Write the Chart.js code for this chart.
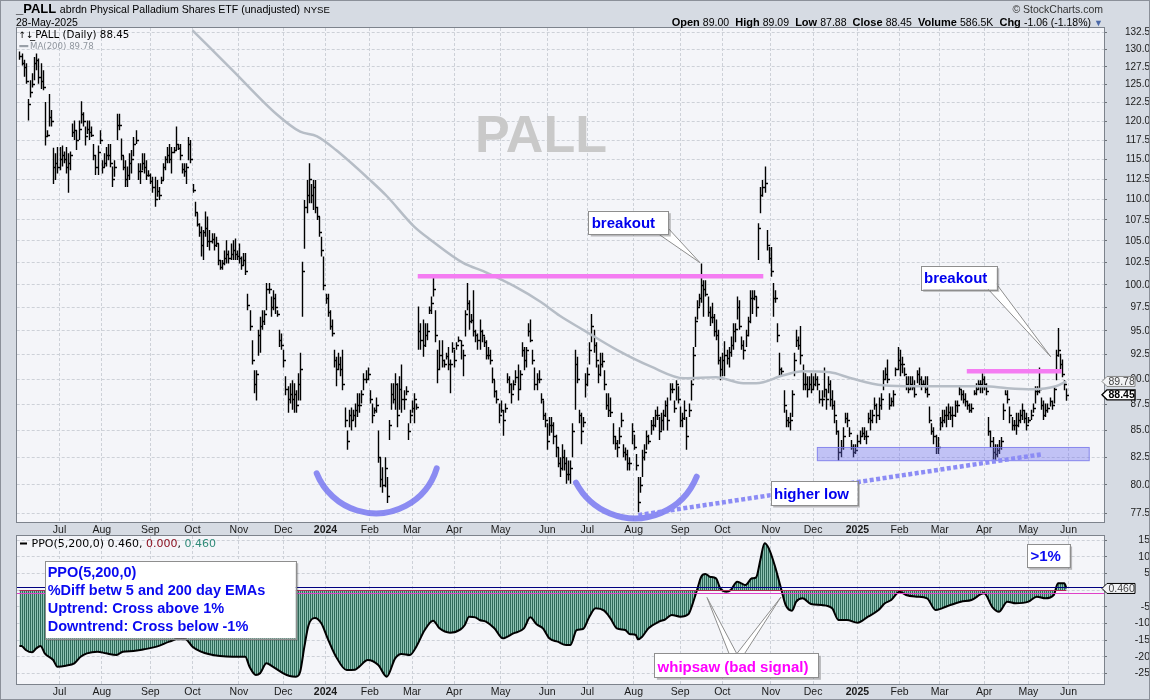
<!DOCTYPE html>
<html><head><meta charset="utf-8"><title>PALL</title>
<script src="https://cdn.jsdelivr.net/npm/chart.js@4.4.1/dist/chart.umd.min.js"></script>
<style>
html,body{margin:0;padding:0;}
body{width:1150px;height:700px;background:#d6dbe3;position:relative;overflow:hidden;font-family:"Liberation Sans",Arial,sans-serif;}
#frame{position:absolute;left:0;top:0;width:1148px;height:698px;border:1px solid #8b9099;pointer-events:none;}
canvas{position:absolute;left:0;top:0;}
.t{position:absolute;white-space:nowrap;color:#000;}
.v{font-size:10.5px;font-weight:normal;}
</style></head><body>
<canvas id="cTop" width="1150" height="700"></canvas>
<canvas id="cPpo" width="1150" height="700"></canvas>
<div id="frame"></div>
<div class="t" style="left:16px;top:2.3px;font-size:13px;line-height:13px;"><b>_PALL</b> <span style="font-size:10.6px;">abrdn Physical Palladium Shares ETF (unadjusted)</span> <span style="font-size:9.6px;">NYSE</span></div>
<div class="t" style="left:16px;top:16.8px;font-size:10.5px;line-height:10.5px;">28-May-2025</div>
<div class="t" style="right:47px;top:3.8px;font-size:10.5px;line-height:10.5px;color:#333;">© StockCharts.com</div>
<div class="t" style="right:47px;top:16.7px;font-size:11px;line-height:11px;"><b>Open</b> <span class="v">89.00</span>&nbsp; <b>High</b> <span class="v">89.09</span>&nbsp; <b>Low</b> <span class="v">87.88</span>&nbsp; <b>Close</b> <span class="v">88.45</span>&nbsp; <b>Volume</b> <span class="v">586.5K</span>&nbsp; <b>Chg</b> <span class="v">-1.06 (-1.18%)</span> <span style="color:#4a68a8;font-size:9px;">&#9660;</span></div>
<script>
const FONT = '"Liberation Sans", Arial, sans-serif';
const VFONT = '"DejaVu Sans", Verdana, sans-serif';

// trading-day index: 0 = 2023-06-01 ; first bar = 2023-06-05
const firstDay = 2;
const high = [
129.7,129.4,128.5,128.0,123.0,125.6,126.6,128.9,129.4,128.7,
128.0,127.0,122.6,118.8,123.7,121.5,116.5,115.8,116.6,116.6,
116.8,116.0,116.6,115.8,116.0,119.7,120.1,118.8,120.1,122.7,
121.2,119.3,120.1,120.1,119.3,117.0,115.6,116.8,118.8,114.9,
115.8,116.6,117.0,117.0,114.1,114.9,121.0,121.0,117.7,115.4,
114.9,114.1,115.8,116.2,117.9,118.8,114.5,114.5,115.8,115.8,
114.9,113.6,113.2,112.8,112.8,112.4,111.5,112.8,114.5,115.4,
116.6,117.0,116.6,116.6,119.3,117.0,117.0,114.5,114.5,114.5,
117.9,117.5,111.9,109.7,108.3,107.1,106.7,106.3,108.5,107.9,
106.3,105.9,105.9,105.5,104.7,102.8,102.8,103.9,105.1,103.9,
104.7,105.1,105.3,103.9,104.7,103.2,103.6,103.6,99.0,97.2,
94.0,90.9,90.9,95.1,96.5,97.2,97.2,100.2,100.2,98.7,
99.4,99.0,97.2,95.1,94.7,93.0,90.3,89.3,89.6,89.9,
89.6,88.9,90.6,92.7,102.6,109.9,112.4,114.5,111.9,112.4,
112.4,109.1,107.9,105.5,103.2,99.0,99.0,97.2,96.2,93.0,
92.3,92.7,92.3,93.0,87.2,85.0,87.0,87.2,87.0,87.6,
88.6,88.6,88.9,90.6,90.9,91.2,88.9,87.6,87.2,88.2,
85.0,82.5,81.6,82.5,80.7,86.0,89.6,89.6,90.6,89.6,
90.3,91.5,88.9,89.3,85.7,87.0,87.9,88.6,87.6,97.6,
95.8,96.2,95.8,95.8,97.6,98.7,100.9,97.2,93.0,94.0,
94.0,92.0,92.7,93.3,92.0,93.8,93.0,93.8,94.4,94.0,
93.0,97.2,100.2,98.3,96.8,99.4,95.1,94.7,96.2,95.1,
94.4,94.0,93.3,93.0,91.2,89.9,88.9,87.6,87.9,87.0,
87.6,90.6,90.3,89.6,89.9,90.9,91.5,90.9,93.8,93.3,
93.3,95.8,96.2,93.0,91.2,90.6,90.9,88.6,87.9,86.7,
85.7,86.3,86.3,85.8,84.6,83.4,82.5,83.7,83.2,82.5,
82.2,82.2,85.7,93.0,92.3,87.0,86.7,86.3,90.6,91.2,
93.8,96.8,95.1,93.8,91.5,92.7,92.7,90.9,88.6,88.6,
88.2,85.7,84.5,84.1,85.3,86.7,83.7,83.4,83.2,82.5,
85.7,84.6,82.8,80.7,80.7,83.2,83.7,85.0,84.6,86.0,
86.3,87.0,87.3,86.3,86.7,87.0,87.9,88.2,89.6,89.6,
87.9,89.9,89.3,87.3,86.7,87.9,86.3,87.6,89.9,93.3,
96.5,98.3,99.0,102.4,100.5,100.5,98.7,97.6,98.0,96.8,
96.2,95.1,92.3,92.7,93.9,93.0,93.3,94.4,95.8,95.8,
98.7,98.3,94.4,94.0,95.1,96.5,99.4,99.4,99.4,98.7,
107.1,111.5,112.4,114.1,106.3,104.3,104.3,100.2,99.4,95.8,
92.7,91.2,88.9,87.0,86.3,86.7,88.9,92.7,95.1,94.4,
95.5,91.5,90.6,90.3,90.3,90.6,90.3,90.6,90.3,88.9,
88.9,91.2,88.9,90.3,89.9,88.9,87.9,86.0,85.0,84.1,
85.3,86.7,86.7,85.3,84.1,83.7,83.7,84.6,85.0,85.3,
85.3,85.0,86.7,87.0,87.0,88.2,87.6,88.2,88.6,90.9,
91.2,92.0,88.6,88.2,88.9,91.2,93.3,93.0,92.3,91.2,
90.3,90.3,90.3,90.3,89.9,90.9,91.2,90.3,89.9,90.3,
90.3,87.3,85.7,85.3,84.6,84.4,86.3,87.0,87.0,87.3,
87.6,87.3,87.3,87.9,87.9,89.3,88.9,88.9,88.6,87.9,
87.6,87.6,88.9,89.6,89.9,89.9,90.6,90.3,89.6,86.3,
85.0,84.4,83.7,83.7,84.1,84.4,87.6,88.9,88.9,87.3,
86.3,86.0,86.7,86.7,87.0,87.6,87.0,86.7,86.3,87.0,
87.6,89.3,89.3,91.2,88.2,87.9,87.6,87.6,88.2,87.9,
89.3,93.0,95.3,92.6,92.0,89.9,89.09];
const low = [
128.5,127.7,126.1,125.1,120.1,123.2,124.6,125.6,127.0,125.1,
124.4,124.2,116.8,117.9,119.3,119.3,111.9,112.4,113.2,113.6,
114.1,114.5,113.2,110.8,113.6,117.9,117.5,116.2,117.5,119.7,
119.3,116.8,118.3,117.5,117.9,114.9,113.0,113.0,117.0,113.2,
114.0,114.1,114.9,114.0,111.5,112.8,117.5,118.8,114.9,113.6,
111.5,111.5,112.4,113.2,115.4,117.0,112.4,111.9,113.6,113.2,
112.4,112.8,111.9,110.8,109.1,110.3,109.9,111.9,112.4,113.6,
114.5,114.5,113.2,115.8,116.2,116.2,114.9,113.2,112.8,111.9,
114.9,114.5,110.8,107.9,106.7,105.5,103.2,102.8,105.5,104.3,
103.9,104.7,103.9,104.3,102.2,101.7,101.7,102.2,102.4,102.4,
102.8,102.8,102.8,102.8,102.4,101.7,102.2,101.1,97.2,95.0,
91.5,88.6,87.9,92.4,92.7,95.1,95.6,97.2,99.0,96.5,
97.2,96.8,96.5,93.3,93.0,91.2,88.4,86.7,87.6,87.0,
86.7,86.7,87.9,87.9,96.5,104.1,108.3,109.5,109.5,108.7,
108.3,107.5,105.5,103.2,99.4,97.9,96.5,95.1,94.4,91.2,
89.3,90.9,90.3,88.9,85.3,83.2,85.3,85.0,86.0,85.3,
86.3,86.7,87.6,88.9,89.6,89.9,87.6,85.7,86.6,86.7,
82.0,79.8,79.3,79.8,78.4,84.1,87.0,87.6,87.0,85.3,
87.0,86.7,87.0,88.4,84.1,85.7,86.7,85.7,87.0,93.0,
93.0,92.3,93.3,94.0,96.8,96.8,98.7,93.8,89.6,90.9,
91.2,91.2,92.0,90.9,88.6,92.7,91.2,93.0,93.8,92.0,
90.3,94.4,97.2,95.1,95.8,94.4,93.8,93.0,93.0,93.8,
93.3,92.0,92.0,91.5,89.6,88.2,87.6,85.7,86.7,84.5,
86.7,89.6,88.6,87.6,88.9,89.6,87.9,88.9,92.3,90.9,
91.2,94.4,93.8,91.5,88.9,88.9,89.6,87.6,86.0,85.3,
83.2,84.5,84.8,83.7,82.5,81.6,80.7,81.3,81.3,80.1,
80.4,80.1,82.5,87.0,89.6,85.7,83.7,85.3,88.2,89.3,
91.5,93.8,92.7,91.2,89.6,90.3,91.2,88.9,87.0,86.3,
86.3,83.7,83.2,82.5,83.7,85.3,82.5,82.2,81.3,81.3,
83.7,83.2,81.3,77.6,79.3,80.7,82.2,83.2,83.7,84.6,
85.0,85.3,86.0,84.1,85.0,85.0,86.3,85.0,87.9,88.6,
86.7,87.9,87.6,85.3,85.3,86.0,83.2,86.3,87.9,89.9,
93.3,96.2,97.6,98.0,96.5,98.7,96.5,95.5,95.8,94.4,
94.0,91.5,89.9,90.3,90.3,91.5,91.2,92.3,93.0,93.8,
96.2,95.1,93.0,92.0,93.3,94.4,95.8,96.8,98.3,96.5,
102.8,108.3,110.3,110.8,103.9,102.4,100.9,96.5,98.0,93.8,
90.3,90.3,86.7,85.3,85.3,85.0,86.3,90.3,93.3,93.0,
91.5,88.9,88.9,88.2,88.9,88.6,88.9,89.3,88.9,87.6,
87.3,88.2,87.0,88.6,87.3,87.0,85.7,84.6,82.2,82.5,
83.2,85.7,85.3,84.4,83.2,82.5,82.8,83.4,83.7,84.4,
84.1,83.7,85.7,85.0,85.7,87.0,85.7,86.0,87.0,88.9,
89.9,89.6,87.0,87.3,87.3,90.3,90.9,90.3,90.6,90.3,
88.9,88.6,88.9,88.9,88.2,89.6,89.3,88.9,89.3,88.6,
88.2,85.7,84.6,83.7,82.8,82.8,85.0,85.3,85.7,85.3,
86.0,86.0,85.3,86.3,86.7,88.4,87.9,87.6,87.3,87.0,
86.7,86.7,88.4,88.4,88.9,88.6,88.6,88.9,88.4,84.5,
83.4,82.2,82.2,82.5,82.8,83.2,86.0,88.4,87.6,85.7,
85.0,85.0,84.6,85.3,85.7,86.0,85.7,85.0,85.7,86.0,
86.7,87.6,88.4,88.6,87.0,86.0,86.3,86.7,87.3,87.0,
87.6,89.9,92.3,91.0,90.2,88.9,87.88];
const close = [
129.0,128.0,127.5,125.5,122.3,124.0,125.1,128.0,128.5,126.0,
125.5,124.6,118.0,118.2,120.5,120.0,114.0,114.5,114.0,115.0,
115.5,115.0,114.0,114.5,115.5,118.5,118.8,117.5,119.0,121.0,
120.0,118.0,119.0,118.5,118.2,115.5,114.0,116.0,117.5,114.0,
114.5,115.5,115.5,114.5,112.5,114.0,119.5,119.5,115.5,114.0,
112.5,113.0,114.5,115.0,117.0,117.5,113.5,113.5,114.5,114.0,
113.0,113.0,112.2,111.5,110.0,111.0,110.5,112.4,114.0,115.0,
115.5,115.0,116.0,116.2,117.0,116.5,115.5,113.8,113.5,114.0,
117.0,115.0,111.2,108.5,107.0,106.0,104.5,106.0,106.5,105.0,
105.0,105.2,104.5,104.8,102.8,102.0,102.5,103.0,103.5,103.0,
103.5,104.0,103.5,103.2,103.0,102.2,102.8,101.5,97.8,95.5,
92.0,89.5,90.5,94.5,95.5,96.0,96.8,99.5,99.5,97.5,
98.5,97.5,96.8,94.0,93.5,92.0,89.0,88.0,88.5,88.0,
88.5,87.5,89.5,91.0,101.5,109.0,110.5,112.5,110.5,111.5,
109.0,108.0,106.0,104.0,100.0,98.5,97.0,95.5,94.8,92.0,
91.0,91.5,91.0,89.5,86.0,84.0,86.5,86.0,86.5,87.0,
87.5,87.5,88.5,90.0,90.0,90.5,88.0,86.5,87.0,87.5,
82.5,80.5,80.0,81.5,79.0,85.5,88.5,88.0,89.5,86.5,
89.0,88.0,88.0,88.8,85.0,86.5,87.2,88.0,87.3,95.0,
94.0,93.5,94.5,95.0,97.2,98.0,99.5,94.5,91.0,92.5,
92.0,91.5,92.4,91.5,91.5,93.2,92.0,93.5,94.0,93.5,
92.5,96.8,98.0,96.0,96.2,95.0,94.5,94.0,95.0,94.5,
93.8,92.5,92.5,92.0,90.0,88.8,88.0,86.5,87.0,86.0,
87.2,90.0,89.5,88.5,89.5,90.2,89.0,90.5,93.0,92.0,
93.0,95.0,94.0,92.0,89.5,90.0,90.0,88.0,86.5,86.0,
84.0,85.5,85.5,84.5,83.5,82.0,81.5,82.5,82.0,81.0,
81.0,81.5,85.0,91.5,90.0,86.5,85.0,85.8,89.5,90.5,
93.0,95.5,93.5,92.0,90.5,91.5,91.8,89.5,87.5,87.0,
86.8,84.5,83.8,83.5,84.5,86.0,83.0,82.8,82.0,82.0,
85.0,83.5,81.8,78.5,80.0,82.5,83.0,84.5,84.0,85.5,
85.5,86.5,86.5,85.0,86.0,86.5,87.5,86.0,89.0,89.0,
87.2,89.5,88.0,86.0,86.2,87.0,84.5,87.0,89.5,92.5,
96.0,97.5,98.5,100.0,99.5,99.0,97.0,96.5,96.5,95.0,
94.5,92.0,91.0,92.0,92.5,92.2,92.8,93.5,95.0,95.2,
97.5,95.5,93.5,93.0,94.5,96.0,98.5,98.5,98.8,97.5,
106.5,110.5,111.5,112.0,104.5,103.0,101.5,98.5,98.5,94.5,
91.0,90.8,87.5,86.0,85.8,86.0,88.5,92.0,94.0,93.5,
92.5,89.5,89.5,89.0,89.5,89.0,89.5,90.0,89.5,88.0,
88.0,89.0,88.0,89.5,88.0,87.5,86.5,85.0,83.0,83.5,
84.5,86.2,86.0,84.8,83.5,83.0,83.2,84.0,84.5,84.8,
84.5,84.5,86.2,86.0,86.5,87.5,86.5,87.5,88.0,90.0,
90.5,90.0,87.5,87.8,88.5,91.0,92.0,91.5,91.5,90.5,
89.5,89.0,89.5,89.2,88.5,90.5,90.0,89.5,89.5,89.0,
88.5,86.0,85.0,84.5,83.5,83.5,85.8,86.0,86.5,86.5,
86.8,86.5,86.5,87.5,87.5,89.0,88.5,88.0,87.8,87.5,
87.0,87.2,88.6,89.0,89.5,89.5,90.0,89.5,88.8,85.0,
84.0,83.0,82.8,83.2,83.5,84.0,87.0,88.5,88.0,86.5,
85.5,85.5,85.5,86.0,86.5,87.0,86.2,85.5,86.0,86.5,
87.2,88.8,88.8,89.0,87.5,86.5,87.0,87.2,87.8,87.5,
89.0,92.5,93.0,91.5,90.5,89.51,88.45];

// 200-day moving average
const maDay = [84,103,124,135,143,152,168,176,189,197,212,223,236,249,258,269,285,301,317,332,345,351,364,373,386,396,411,427,443,459,470,482,493,498];
const maVal = [132.8,127.0,120.9,118.6,118.0,116.2,112.4,110.4,106.7,105.1,102.5,101.4,99.9,98.1,96.6,95.1,93.0,91.3,90.1,90.2,89.6,89.6,90.4,90.8,90.7,90.1,89.4,89.3,89.3,89.3,89.1,89.0,89.3,89.78];

// PPO(5,200,0)
const ppoDay = [2,3,5,8,10,12,14,18,20,24,28,31,34,39,43,48,51,56,61,67,73,78,81,84,88,92,97,103,109,111,114,116,119,122,127,130,133,135,137,139,142,145,148,152,157,161,163,167,172,176,180,183,187,190,194,198,201,206,211,213,215,218,220,223,227,231,236,241,244,247,250,253,257,261,263,266,269,272,275,279,282,285,289,291,294,295,297,300,305,308,311,315,319,321,323,325,327,329,332,334,337,339,342,344,346,349,351,353,355,357,360,363,365,368,370,373,377,382,387,390,394,399,404,409,412,415,419,422,427,432,436,439,443,448,453,459,463,466,470,474,480,484,488,492,494,497,498];
const ppoVal = [-16.8,-16.8,-18,-18.7,-17.5,-16.8,-19,-21,-23,-22.7,-22,-20,-19,-18.5,-19,-19.5,-18.5,-18.3,-17.8,-17,-15.5,-14.5,-14.8,-17,-18.5,-19.3,-19.8,-20,-20,-23,-25.5,-25,-22,-23,-25,-25.8,-26,-24.5,-17,-10.5,-8.4,-10,-14.5,-20,-24,-23.9,-23,-21,-22.5,-26,-20.5,-19.2,-19.5,-17,-12,-9.2,-11.5,-12.8,-11.8,-10.5,-8,-8.2,-9,-9.5,-11.5,-14.5,-13,-11.5,-8.2,-10.3,-11.5,-14.5,-15.5,-16.5,-16.5,-12,-11.7,-8,-5.5,-6.2,-8.5,-11.5,-12,-13.2,-13.5,-14.8,-14,-11.5,-9.5,-8.8,-7.5,-8,-7.2,-4,0,4,4.8,4,3.5,0.5,-0.5,0,2.5,2,1.5,3.5,3.8,9,14,12.5,7,0,-4.5,-6.2,-3.5,-2.5,-4.2,-4.5,-5.5,-9,-9,-9.8,-8,-6,-4,-3,-0.5,-1.5,-2,-2.5,-6,-5.5,-4.5,-3.5,-3,-1,-5.2,-6.5,-3.5,-4,-3.5,-2,-2.5,-1.5,2,2,0.46];

// first trading day of each month (same index) and its label
const monthDay = [21,41,64,84,106,127,147,168,188,208,230,252,271,293,315,335,358,378,399,419,438,459,480,499];
const monthLabel = ['Jul','Aug','Sep','Oct','Nov','Dec','2024','Feb','Mar','Apr','May','Jun','Jul','Aug','Sep','Oct','Nov','Dec','2025','Feb','Mar','Apr','May','Jun'];
const priceTicks = [77.5,80,82.5,85,87.5,90,92.5,95,97.5,100,102.5,105,107.5,110,112.5,115,117.5,120,122.5,125,127.5,130,132.5];
const ppoTicks = [15,10,5,0,-5,-10,-15,-20,-25];
const lastClose = 88.45, lastMA = 89.78, lastPPO = 0.46, ppoSignal = 0;

// annotation levels drawn on the price chart (day, price)
const resistance = [{from:190.7,to:354.4,price:100.95},{from:450.8,to:495.7,price:90.82}];
const supportZone = {from:380,to:508.8,lo:82.19,hi:83.41};
const trendLine = {d1:295.2,p1:77.35,d2:487,p2:82.8};

const X_MIN = 0.71, X_MAX = 515.8;
const GRID = '#cdd1d8';

function xScale(height){
  return {
    type:'linear', min:X_MIN, max:X_MAX,
    afterBuildTicks:s=>{ s.ticks = monthDay.map(v=>({value:v})); },
    afterFit:s=>{ s.height = height; },
    ticks:{autoSkip:false, maxRotation:0, padding:2, color:'#1a1a1a',
      font:c=>({family:FONT, size:10.5, weight:(monthLabel[c.index]||'').length===4?'bold':'normal'}),
      callback:(v,i)=>monthLabel[i]},
    grid:{color:GRID, drawTicks:false},
    border:{display:false, dash:[3,2]}
  };
}
function clipArea(ctx,a){ ctx.beginPath(); ctx.rect(a.left,a.top,a.right-a.left,a.bottom-a.top); ctx.clip(); }
function drawTail(ctx,pts){
  ctx.beginPath(); ctx.moveTo(pts[0][0],pts[0][1]);
  for(let k=1;k<pts.length;k++) ctx.lineTo(pts[k][0],pts[k][1]);
  ctx.closePath(); ctx.fillStyle='#fff'; ctx.fill();
  ctx.strokeStyle='#8e8e8e'; ctx.lineWidth=1; ctx.stroke();
}
function drawBox(ctx,b){
  if(b.tails) b.tails.forEach(t=>drawTail(ctx,t));
  ctx.fillStyle='rgba(70,70,70,0.35)'; ctx.fillRect(b.x+2.5,b.y+2.5,b.w,b.h);
  ctx.fillStyle='#fff'; ctx.fillRect(b.x,b.y,b.w,b.h);
  ctx.strokeStyle='#8e8e8e'; ctx.lineWidth=1; ctx.strokeRect(Math.round(b.x)+0.5,Math.round(b.y)+0.5,Math.round(b.w),Math.round(b.h));
  ctx.fillStyle=b.color; ctx.font='bold '+b.size+'px '+FONT; ctx.textAlign='left'; ctx.textBaseline='alphabetic';
  b.lines.forEach((t,k)=>ctx.fillText(t,b.tx,b.ty+k*(b.lh||0)));
}
function arc3(ctx,p1,p2,p3){
  const [ax,ay]=p1,[bx,by]=p2,[cx,cy]=p3;
  const d=2*(ax*(by-cy)+bx*(cy-ay)+cx*(ay-by));
  const ux=((ax*ax+ay*ay)*(by-cy)+(bx*bx+by*by)*(cy-ay)+(cx*cx+cy*cy)*(ay-by))/d;
  const uy=((ax*ax+ay*ay)*(cx-bx)+(bx*bx+by*by)*(ax-cx)+(cx*cx+cy*cy)*(bx-ax))/d;
  const r=Math.hypot(ax-ux,ay-uy);
  ctx.beginPath(); ctx.arc(ux,uy,r,Math.atan2(cy-uy,cx-ux),Math.atan2(ay-uy,ax-ux),false); ctx.stroke();
}
function valueTag(ctx,yv,text,bold,border){
  ctx.beginPath(); ctx.moveTo(1102,yv); ctx.lineTo(1107,yv-5); ctx.lineTo(1135,yv-5); ctx.lineTo(1135,yv+5); ctx.lineTo(1107,yv+5); ctx.closePath();
  ctx.fillStyle=bold?'#fff':'#f2f3f5'; ctx.fill(); ctx.strokeStyle=border; ctx.lineWidth=bold?1.4:1; ctx.stroke();
  ctx.fillStyle=bold?'#000':'#444'; ctx.font=(bold?'bold ':'')+'10.5px '+FONT; ctx.textAlign='left'; ctx.textBaseline='middle';
  ctx.fillText(text,1108.5,yv+0.5);
}

const topDeco = {
  id:'topDeco',
  beforeDraw(chart){ const {ctx,chartArea:a}=chart; ctx.save(); ctx.fillStyle='#f4f5f9'; ctx.fillRect(a.left,a.top,a.right-a.left,a.bottom-a.top); ctx.restore(); },
  beforeDatasetsDraw(chart){
    const {ctx,chartArea:a,scales:{x,y}}=chart;
    ctx.save(); clipArea(ctx,a);
    ctx.font='bold 52px '+FONT; ctx.fillStyle='#c9c9c9'; ctx.textAlign='center'; ctx.textBaseline='alphabetic';
    ctx.fillText('PALL',541,152);
    ctx.strokeStyle='#000'; ctx.lineWidth=1.4; ctx.beginPath();
    for(let i=0;i<high.length;i++){
      const px=Math.round(x.getPixelForValue(firstDay+i))+0.5;
      ctx.moveTo(px,y.getPixelForValue(high[i])); ctx.lineTo(px,y.getPixelForValue(low[i]));
      const cy=Math.round(y.getPixelForValue(close[i]))+0.5;
      ctx.moveTo(px,cy); ctx.lineTo(px+2.5,cy);
    }
    ctx.stroke(); ctx.restore();
  },
  afterDatasetsDraw(chart){
    const {ctx,chartArea:a,scales:{x,y}}=chart;
    ctx.save(); clipArea(ctx,a);
    // support zone
    const zx1=x.getPixelForValue(supportZone.from), zx2=x.getPixelForValue(supportZone.to);
    const zy1=y.getPixelForValue(supportZone.hi), zy2=y.getPixelForValue(supportZone.lo);
    ctx.fillStyle='rgba(110,110,240,0.38)'; ctx.fillRect(zx1,zy1,zx2-zx1,zy2-zy1);
    ctx.strokeStyle='rgba(120,120,235,0.85)'; ctx.lineWidth=1; ctx.strokeRect(zx1,zy1,zx2-zx1,zy2-zy1);
    // resistance lines
    ctx.strokeStyle='#f47cf2'; ctx.lineWidth=4.5; ctx.lineCap='butt';
    resistance.forEach(r=>{ const yy=y.getPixelForValue(r.price); ctx.beginPath(); ctx.moveTo(x.getPixelForValue(r.from),yy); ctx.lineTo(x.getPixelForValue(r.to),yy); ctx.stroke(); });
    // bowls
    ctx.strokeStyle='rgba(112,112,240,0.8)'; ctx.lineWidth=6; ctx.lineCap='round';
    arc3(ctx,[316.7,473.3],[375,513.3],[436.7,468.3]);
    arc3(ctx,[576,482.7],[631.7,518.3],[696.7,476.7]);
    // higher-low trend line
    ctx.strokeStyle='#8c8cf5'; ctx.lineWidth=4.5; ctx.lineCap='butt'; ctx.setLineDash([4,2.5]);
    ctx.beginPath(); ctx.moveTo(x.getPixelForValue(trendLine.d1),y.getPixelForValue(trendLine.p1)); ctx.lineTo(x.getPixelForValue(trendLine.d2),y.getPixelForValue(trendLine.p2)); ctx.stroke();
    ctx.setLineDash([]);
    ctx.restore();
    ctx.save();
    drawBox(ctx,{x:588.3,y:210.7,w:80,h:23.3,tx:591.7,ty:227.5,size:15,color:'#0000ee',lines:['breakout'],tails:[[[657,233],[667,227],[700,262.7]]]});
    drawBox(ctx,{x:920.7,y:265.7,w:76,h:23.6,tx:924,ty:283,size:15,color:'#0000ee',lines:['breakout'],tails:[[[987,288],[995,282],[1050.7,356.7]]]});
    drawBox(ctx,{x:770.7,y:481,w:86.6,h:24,tx:774,ty:498.5,size:15,color:'#0000ee',lines:['higher low']});
    ctx.restore();
  },
  afterDraw(chart){
    const {ctx,chartArea:a,scales:{y}}=chart;
    ctx.save();
    ctx.strokeStyle='#7d838c'; ctx.lineWidth=1; ctx.strokeRect(Math.round(a.left)-0.5,Math.round(a.top)-0.5,Math.round(a.right-a.left)+1,Math.round(a.bottom-a.top)+1);
    valueTag(ctx,y.getPixelForValue(lastMA),lastMA.toFixed(2),false,'#8a8a8a');
    valueTag(ctx,y.getPixelForValue(lastClose),lastClose.toFixed(2),true,'#000');
    // legend
    ctx.textAlign='left'; ctx.textBaseline='alphabetic';
    ctx.fillStyle='#000'; ctx.font='9px '+VFONT; ctx.fillText('\u2191\u2193',18.5,38.3);
    ctx.font='10.3px '+VFONT; ctx.fillText('_PALL (Daily) '+lastClose.toFixed(2),30,38.3);
    ctx.fillStyle='#9aa0a8'; ctx.fillRect(19.3,45,9,2.2);
    ctx.font='8.6px '+VFONT; ctx.fillStyle='#90969e'; ctx.fillText('MA(200) '+lastMA.toFixed(2),30,48.5);
    ctx.restore();
  }
};

const chartTop = new Chart(document.getElementById('cTop'),{
  type:'line',
  data:{datasets:[{data:maDay.map((d,i)=>({x:d,y:maVal[i]})),borderColor:'#b6bdc6',borderWidth:2.5,pointRadius:0,cubicInterpolationMode:'monotone',fill:false}]},
  options:{
    responsive:false, animation:false, events:[],
    layout:{padding:{left:16.7,top:28,right:0,bottom:156}},
    plugins:{legend:{display:false},tooltip:{enabled:false}},
    scales:{
      x:xScale(22),
      y:{type:'logarithmic',position:'right',min:76.76,max:133.14,
        afterBuildTicks:s=>{ s.ticks=priceTicks.map(v=>({value:v})); },
        afterFit:s=>{ s.width=46; },
        ticks:{padding:0,crossAlign:'far',color:'#1a1a1a',font:{family:FONT,size:10},callback:v=>Number(v).toFixed(1)},
        grid:{color:GRID,tickLength:3,tickColor:'#6d7278'},
        border:{display:false,dash:[3,2]}}
    }
  },
  plugins:[topDeco]
});

// PPO panel
const cp = document.getElementById('cPpo');
const pc = document.createElement('canvas'); pc.width=2; pc.height=1;
const pg = pc.getContext('2d'); pg.fillStyle='#8ec3b4'; pg.fillRect(0,0,2,1); pg.fillStyle='#2f6a5a'; pg.fillRect(0,0,1,1);
const histPattern = cp.getContext('2d').createPattern(pc,'repeat');

const ppoDeco = {
  id:'ppoDeco',
  beforeDraw(chart){ const {ctx,chartArea:a}=chart; ctx.save(); ctx.fillStyle='#f4f5f9'; ctx.fillRect(a.left,a.top,a.right-a.left,a.bottom-a.top); ctx.restore(); },
  afterDatasetsDraw(chart){
    const {ctx,chartArea:a,scales:{x,y}}=chart;
    ctx.save(); clipArea(ctx,a);
    const hl=(v,c,w,x1,x2)=>{ const yy=Math.round(y.getPixelForValue(v))+0.5; ctx.strokeStyle=c; ctx.lineWidth=w; ctx.beginPath(); ctx.moveTo(x1,yy); ctx.lineTo(x2,yy); ctx.stroke(); };
    hl(1,'#000080',1.2,a.left,a.right);
    hl(ppoSignal,'#b02a55',1,x.getPixelForValue(firstDay),x.getPixelForValue(firstDay+high.length-1));
    hl(-1,'#e040c8',1,a.left,a.right);
    ctx.restore();
    ctx.save();
    drawBox(ctx,{x:45,y:560.7,w:250.7,h:77.6,tx:47.7,ty:577,lh:18.1,size:14.5,color:'#0a0af0',lines:['PPO(5,200,0)','%Diff betw 5 and 200 day EMAs','Uptrend: Cross above 1%','Downtrend: Cross below -1%']});
    drawBox(ctx,{x:1026.8,y:544,w:42.8,h:23.3,tx:1030.5,ty:561,size:15,color:'#0a0af0',lines:['>1%']});
    drawBox(ctx,{x:654.4,y:653.3,w:164,h:24,tx:657.6,ty:671.5,size:15,color:'#ff00ff',lines:['whipsaw (bad signal)'],
      tails:[[[730,656],[738,656],[707,597.5]],[[735,656],[743,656],[781,597]]]});
    ctx.restore();
  },
  afterDraw(chart){
    const {ctx,chartArea:a,scales:{y}}=chart;
    ctx.save();
    ctx.strokeStyle='#7d838c'; ctx.lineWidth=1; ctx.strokeRect(Math.round(a.left)-0.5,Math.round(a.top)-0.5,Math.round(a.right-a.left)+1,Math.round(a.bottom-a.top)+1);
    valueTag(ctx,y.getPixelForValue(lastPPO),lastPPO.toFixed(3),false,'#000');
    ctx.fillStyle='#000'; ctx.fillRect(20,542.5,7,2);
    ctx.textAlign='left'; ctx.textBaseline='alphabetic'; ctx.font='11px '+VFONT;
    let xx=31.5; const seg=(t,c)=>{ ctx.fillStyle=c; ctx.fillText(t,xx,547); xx+=ctx.measureText(t).width; };
    seg('PPO(5,200,0) '+lastPPO.toFixed(3)+', ','#000'); seg(ppoSignal.toFixed(3),'#8b1020'); seg(', ','#000'); seg((lastPPO-ppoSignal).toFixed(3),'#2e8a78');
    ctx.restore();
  }
};

const chartPpo = new Chart(cp,{
  type:'line',
  data:{datasets:[{data:ppoDay.map((d,i)=>({x:d,y:ppoVal[i]})),borderColor:'#000',borderWidth:2,pointRadius:0,cubicInterpolationMode:'monotone',fill:'origin',backgroundColor:histPattern}]},
  options:{
    responsive:false, animation:false, events:[],
    layout:{padding:{left:16.7,top:536,right:0,bottom:0}},
    plugins:{legend:{display:false},tooltip:{enabled:false}},
    scales:{
      x:xScale(16),
      y:{type:'linear',position:'right',min:-28.2,max:16.2,
        afterBuildTicks:s=>{ s.ticks=ppoTicks.map(v=>({value:v})); },
        afterFit:s=>{ s.width=46; },
        ticks:{padding:0,crossAlign:'far',color:'#1a1a1a',font:{family:FONT,size:10.5},callback:v=>v===0?'':String(v)},
        grid:{color:GRID,tickLength:3,tickColor:'#6d7278'},
        border:{display:false,dash:[3,2]}}
    }
  },
  plugins:[ppoDeco]
});
</script>
</body></html>
